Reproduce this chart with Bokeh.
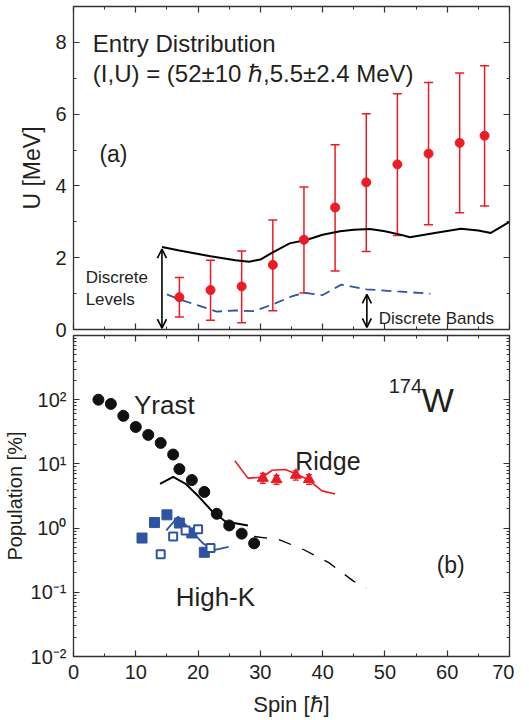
from bokeh.plotting import figure
from bokeh.models import (ColumnDataSource, Whisker, TeeHead, Arrow, OpenHead, Label,
                          LinearAxis, LogAxis, SingleIntervalTicker, LogTicker,
                          CustomJSTickFormatter, Range1d)
from bokeh.layouts import column
from bokeh.embed import file_html
from bokeh.resources import INLINE

FONT = "Liberation Sans"
RED = "#ec1c24"
BLUE = "#2f54a3"
INK = "#231f20"
AXC = "#333333"

# ---------------- panel (a): entry distribution ----------------
spin_a = [17, 22, 27, 32, 37, 42, 47, 52, 57, 62, 66]
u_a = [0.9, 1.1, 1.2, 1.8, 2.5, 3.4, 4.1, 4.6, 4.9, 5.2, 5.4]
u_a_lo = [0.35, 0.26, 0.19, 0.52, 1.02, 1.63, 2.17, 2.62, 2.92, 3.25, 3.44]
u_a_hi = [1.45, 1.93, 2.19, 3.05, 3.97, 5.15, 6.01, 6.57, 6.88, 7.15, 7.35]

levels_spin = [14.2, 17, 22, 26, 28.2, 30, 32, 34.7, 37.5, 40, 42.8, 45, 47.6, 50,
               52.8, 54, 58, 62.2, 65, 67, 70]
levels_u = [2.3, 2.2, 2.04, 1.93, 1.89, 1.95, 2.15, 2.4, 2.5, 2.64, 2.74, 2.78, 2.8, 2.74,
            2.63, 2.57, 2.69, 2.81, 2.76, 2.69, 3.0]

bands_spin = [15, 17, 20, 23, 26, 29, 32, 35, 37, 40, 43, 47, 52, 57.3]
bands_u = [0.98, 0.84, 0.67, 0.5, 0.53, 0.51, 0.7, 0.92, 1.02, 0.96, 1.25, 1.12, 1.06, 1.0]

arrow_spin = [14.2, 47.1]
arrow_lo = [0.04, 0.06]
arrow_hi = [2.24, 0.98]

# ---------------- panel (b): populations ----------------
yrast_spin = [4, 6, 8, 10, 12, 14, 16, 17, 19, 21, 23, 25, 27, 29]
yrast_pop = [100, 86, 56, 37.6, 28.3, 21.2, 14.0, 8.3, 5.6, 3.66, 1.67, 1.1, 0.82, 0.58]

yrast_calc_spin = [13.9, 16.0, 18.0, 20.1, 22.3, 24.4, 28.0]
yrast_calc_pop = [4.9, 6.3, 4.9, 3.1, 1.81, 1.27, 1.1]

cont_spin = [29, 33, 37, 41, 45, 47]
cont_pop = [0.74, 0.66, 0.46, 0.29, 0.148, 0.117]

ridge_spin = [30.4, 32.6, 35.7, 37.8]
ridge_pop = [6.0, 5.7, 6.7, 5.75]
ridge_lo = [5.0, 4.8, 5.6, 4.8]
ridge_hi = [7.1, 6.6, 7.8, 6.8]

ridge_calc_spin = [25.9, 28.0, 30.3, 31.9, 34.0, 35.6, 37.75, 39.9, 42.0]
ridge_calc_pop = [11.2, 6.0, 6.2, 7.96, 8.2, 7.1, 5.6, 3.8, 3.4]

hk_fill_spin = [11, 13, 15, 17, 19, 21]
hk_fill_pop = [0.70, 1.22, 1.61, 1.2, 0.84, 0.42]

hk_open_spin = [14, 16, 18, 20, 22]
hk_open_pop = [0.39, 0.74, 0.92, 0.96, 0.49]

hk_calc_spin = [14.9, 16.8, 18.95, 20.8, 22.3, 24.9]
hk_calc_pop = [0.92, 1.51, 0.89, 0.58, 0.45, 0.51]

EMPTY = CustomJSTickFormatter(code="return '';")


def style_axis(ax, labels=True, size="20px"):
    ax.axis_line_color = AXC
    ax.axis_line_width = 1.3
    ax.major_tick_in = 6
    ax.major_tick_out = 0
    ax.minor_tick_in = 3
    ax.minor_tick_out = 0
    ax.major_tick_line_color = AXC
    ax.minor_tick_line_color = AXC
    ax.major_tick_line_width = 1.2
    ax.minor_tick_line_width = 1.0
    ax.major_label_text_font = FONT
    ax.major_label_text_color = INK
    ax.axis_label_text_font = FONT
    ax.axis_label_text_font_style = "normal"
    ax.axis_label_text_color = INK
    if labels:
        ax.major_label_text_font_size = size
    else:
        ax.formatter = EMPTY
        ax.major_label_text_font_size = "1px"
        ax.major_label_standoff = 0


def label(p, x, y, text, size, align="left", baseline="alphabetic"):
    p.add_layout(Label(x=x, y=y, text=text, text_font=FONT, text_font_size=size,
                       text_color=INK, text_align=align, text_baseline=baseline))


# ======== figure (a) ========
pa = figure(x_range=Range1d(0, 70), y_range=Range1d(0, 9),
            frame_width=436, frame_height=323,
            min_border_left=71, min_border_right=5, min_border_top=6, min_border_bottom=15,
            output_backend="svg", toolbar_location=None,
            x_axis_location=None, y_axis_location=None)
pa.grid.visible = False
pa.outline_line_color = None
pa.background_fill_color = "white"

xt = SingleIntervalTicker(interval=10, num_minor_ticks=2)
yt = SingleIntervalTicker(interval=2, num_minor_ticks=2)
ax_b = LinearAxis(ticker=xt); style_axis(ax_b, labels=False)
ax_t = LinearAxis(ticker=xt); style_axis(ax_t, labels=False)
ay_l = LinearAxis(ticker=yt, axis_label="U [MeV]"); style_axis(ay_l, labels=True)
ay_l.axis_label_text_font_size = "23px"
ay_l.major_label_standoff = 7
ay_l.axis_label_standoff = 7
ay_r = LinearAxis(ticker=yt); style_axis(ay_r, labels=False)
pa.add_layout(ax_b, "below")
pa.add_layout(ax_t, "above")
pa.add_layout(ay_l, "left")
pa.add_layout(ay_r, "right")

pa.line(levels_spin, levels_u, line_color="black", line_width=2)
pa.line(bands_spin, bands_u, line_color=BLUE, line_width=1.8, line_dash="10 6")

src_a = ColumnDataSource(dict(x=spin_a, y=u_a, lo=u_a_lo, hi=u_a_hi))
pa.add_layout(Whisker(source=src_a, base="x", upper="hi", lower="lo",
                      line_color=RED, line_width=1.5,
                      upper_head=TeeHead(size=9, line_color=RED, line_width=1.5),
                      lower_head=TeeHead(size=9, line_color=RED, line_width=1.5)))
pa.scatter("x", "y", source=src_a, marker="circle", size=9, color=RED)

for xs, lo, hi in zip(arrow_spin, arrow_lo, arrow_hi):
    pa.add_layout(Arrow(x_start=xs, y_start=lo, x_end=xs, y_end=hi,
                        line_color="black", line_width=1.6,
                        start=OpenHead(size=9, line_color="black", line_width=1.6),
                        end=OpenHead(size=9, line_color="black", line_width=1.6)))

label(pa, 3.1, 7.97, "Entry Distribution", "24px")
label(pa, 3.1, 7.13, "(I,U) = (52\u00b110 \u210f,5.5\u00b12.4 MeV)", "24px")
label(pa, 4.16, 4.9, "(a)", "23px")
label(pa, 1.95, 1.44, "Discrete", "17px")
label(pa, 1.95, 0.84, "Levels", "17px")
label(pa, 49.0, 0.32, "Discrete Bands", "17px")

# ======== figure (b) ========
pb = figure(x_range=Range1d(0, 70), y_range=Range1d(1e-2, 1e3), y_axis_type="log",
            frame_width=436, frame_height=321,
            min_border_left=71, min_border_right=5, min_border_top=3, min_border_bottom=0,
            output_backend="svg", toolbar_location=None,
            x_axis_location=None, y_axis_location=None,
            styles={"margin-top": "-12px"})
pb.grid.visible = False
pb.outline_line_color = None
pb.border_fill_alpha = 0
pb.background_fill_alpha = 0

sup_js = """
const sup = {"-": "\u207b", "0": "\u2070", "1": "\u00b9", "2": "\u00b2", "3": "\u00b3",
             "4": "\u2074", "5": "\u2075", "6": "\u2076", "7": "\u2077", "8": "\u2078", "9": "\u2079"};
const e = Math.round(Math.log10(tick));
if (e > 2) { return ""; }
return "10" + String(e).split("").map(c => sup[c]).join("");
"""
lt = LogTicker(num_minor_ticks=10)
bx_b = LinearAxis(ticker=xt, axis_label="Spin [\u210f]"); style_axis(bx_b, labels=True)
bx_b.axis_label_text_font_size = "22px"
bx_b.major_label_standoff = 8
bx_b.axis_label_standoff = 10
bx_t = LinearAxis(ticker=xt); style_axis(bx_t, labels=False)
by_l = LogAxis(ticker=lt, axis_label="Population [%]",
               formatter=CustomJSTickFormatter(code=sup_js)); style_axis(by_l, labels=True)
by_l.axis_label_text_font_size = "20px"
by_l.major_label_standoff = 7
by_l.axis_label_standoff = 2
by_r = LogAxis(ticker=lt); style_axis(by_r, labels=False)
pb.add_layout(bx_b, "below")
pb.add_layout(bx_t, "above")
pb.add_layout(by_l, "left")
pb.add_layout(by_r, "right")

pb.line(yrast_calc_spin, yrast_calc_pop, line_color="black", line_width=2)
pb.line(cont_spin, cont_pop, line_color="black", line_width=1.3, line_dash="13 12")
pb.scatter(yrast_spin, yrast_pop, marker="circle", size=11, color="#111111")

pb.line(ridge_calc_spin, ridge_calc_pop, line_color=RED, line_width=1.6)
src_r = ColumnDataSource(dict(x=ridge_spin, y=ridge_pop, lo=ridge_lo, hi=ridge_hi))
pb.add_layout(Whisker(source=src_r, base="x", upper="hi", lower="lo",
                      line_color=RED, line_width=1.3,
                      upper_head=TeeHead(size=6, line_color=RED, line_width=1.3),
                      lower_head=TeeHead(size=6, line_color=RED, line_width=1.3)))
pb.scatter("x", "y", source=src_r, marker="triangle", size=11, color=RED)

pb.line(hk_calc_spin, hk_calc_pop, line_color=BLUE, line_width=1.8)
pb.scatter(hk_fill_spin, hk_fill_pop, marker="square", size=10, color=BLUE)
pb.scatter(hk_open_spin, hk_open_pop, marker="square", size=8, fill_color="white",
           line_color=BLUE, line_width=2)

label(pb, 9.7, 10 ** 1.91, "Yrast", "26px")
label(pb, 35.6, 10 ** 1.05, "Ridge", "25px")
label(pb, 16.4, 10 ** -1.076, "High-K", "26px")
label(pb, 58.3, 10 ** -0.57, "(b)", "23px")
label(pb, 55.9, 10 ** 1.99, "W", "34px")
label(pb, 50.6, 10 ** 2.22, "174", "20px")

layout = column(pa, pb)
open("out.html", "w").write(file_html(layout, INLINE))
